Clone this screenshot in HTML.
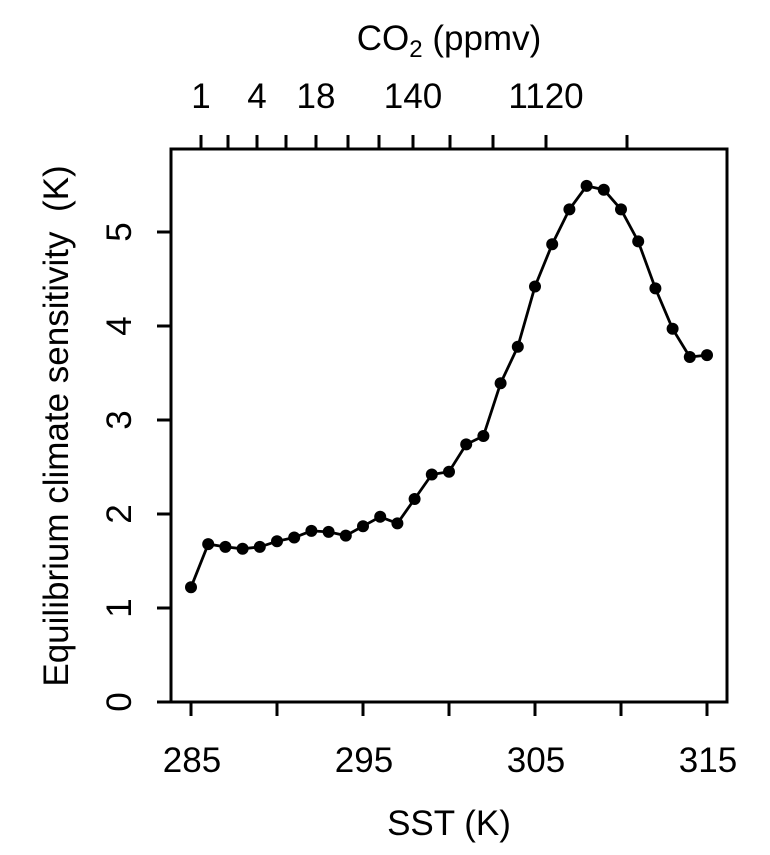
<!DOCTYPE html>
<html><head><style>body{margin:0;background:#fff}svg{display:block}text{font-family:"Liberation Sans",sans-serif;font-size:35px}</style></head>
<body>
<svg width="770" height="855" xmlns="http://www.w3.org/2000/svg" fill="#000">
<rect x="171" y="149" width="556" height="553" fill="none" stroke="#000" stroke-width="3"/>
<g stroke="#000" stroke-width="3">
<line x1="191" y1="702" x2="191" y2="716"/><line x1="277" y1="702" x2="277" y2="716"/><line x1="363" y1="702" x2="363" y2="716"/><line x1="449" y1="702" x2="449" y2="716"/><line x1="535" y1="702" x2="535" y2="716"/><line x1="621" y1="702" x2="621" y2="716"/><line x1="707" y1="702" x2="707" y2="716"/>
<line x1="157" y1="702" x2="171" y2="702"/><line x1="157" y1="608" x2="171" y2="608"/><line x1="157" y1="514" x2="171" y2="514"/><line x1="157" y1="420" x2="171" y2="420"/><line x1="157" y1="326" x2="171" y2="326"/><line x1="157" y1="232" x2="171" y2="232"/>
<line x1="201" y1="135" x2="201" y2="149"/><line x1="228" y1="135" x2="228" y2="149"/><line x1="257" y1="135" x2="257" y2="149"/><line x1="286" y1="135" x2="286" y2="149"/><line x1="316" y1="135" x2="316" y2="149"/><line x1="348" y1="135" x2="348" y2="149"/><line x1="379" y1="135" x2="379" y2="149"/><line x1="413" y1="135" x2="413" y2="149"/><line x1="450" y1="135" x2="450" y2="149"/><line x1="493" y1="135" x2="493" y2="149"/><line x1="546" y1="135" x2="546" y2="149"/><line x1="627" y1="135" x2="627" y2="149"/>
</g>
<g text-anchor="middle">
<text x="192" y="772">285</text><text x="364" y="772">295</text><text x="536" y="772">305</text><text x="708" y="772">315</text>
<text x="449" y="835">SST (K)</text>
<text x="201" y="108">1</text><text x="257" y="108">4</text><text x="316" y="108">18</text><text x="413" y="108">140</text><text x="546" y="108">1120</text>
<text x="449" y="50">CO<tspan style="font-size:24px" dy="7">2</tspan><tspan dy="-7"> (ppmv)</tspan></text>
<g transform="rotate(-90)">
<text x="-702" y="131">0</text><text x="-608" y="131">1</text><text x="-514" y="131">2</text><text x="-420" y="131">3</text><text x="-326" y="131">4</text><text x="-232" y="131">5</text>
<text x="-426" y="68" xml:space="preserve">Equilibrium climate sensitivity  (K)</text>
</g>
</g>
<polyline fill="none" stroke="#000" stroke-width="2.8" points="191,587.3 208.2,544.1 225.4,546.9 242.6,548.8 259.8,546.9 277,541.3 294.2,537.5 311.4,530.9 328.6,531.9 345.8,535.6 363,526.2 380.2,516.8 397.4,523.4 414.6,499 431.8,474.5 449,471.7 466.2,444.4 483.4,436 500.6,383.3 517.8,346.7 535,286.5 552.2,244.2 569.4,209.4 586.6,185.9 603.8,189.7 621,209.4 638.2,241.4 655.4,288.4 672.6,328.8 689.8,357 707,355.1"/>
<g fill="#000">
<circle cx="191" cy="587.3" r="6"/><circle cx="208.2" cy="544.1" r="6"/><circle cx="225.4" cy="546.9" r="6"/><circle cx="242.6" cy="548.8" r="6"/><circle cx="259.8" cy="546.9" r="6"/><circle cx="277" cy="541.3" r="6"/><circle cx="294.2" cy="537.5" r="6"/><circle cx="311.4" cy="530.9" r="6"/><circle cx="328.6" cy="531.9" r="6"/><circle cx="345.8" cy="535.6" r="6"/><circle cx="363" cy="526.2" r="6"/><circle cx="380.2" cy="516.8" r="6"/><circle cx="397.4" cy="523.4" r="6"/><circle cx="414.6" cy="499" r="6"/><circle cx="431.8" cy="474.5" r="6"/><circle cx="449" cy="471.7" r="6"/><circle cx="466.2" cy="444.4" r="6"/><circle cx="483.4" cy="436" r="6"/><circle cx="500.6" cy="383.3" r="6"/><circle cx="517.8" cy="346.7" r="6"/><circle cx="535" cy="286.5" r="6"/><circle cx="552.2" cy="244.2" r="6"/><circle cx="569.4" cy="209.4" r="6"/><circle cx="586.6" cy="185.9" r="6"/><circle cx="603.8" cy="189.7" r="6"/><circle cx="621" cy="209.4" r="6"/><circle cx="638.2" cy="241.4" r="6"/><circle cx="655.4" cy="288.4" r="6"/><circle cx="672.6" cy="328.8" r="6"/><circle cx="689.8" cy="357" r="6"/><circle cx="707" cy="355.1" r="6"/>
</g>
</svg>
</body></html>
